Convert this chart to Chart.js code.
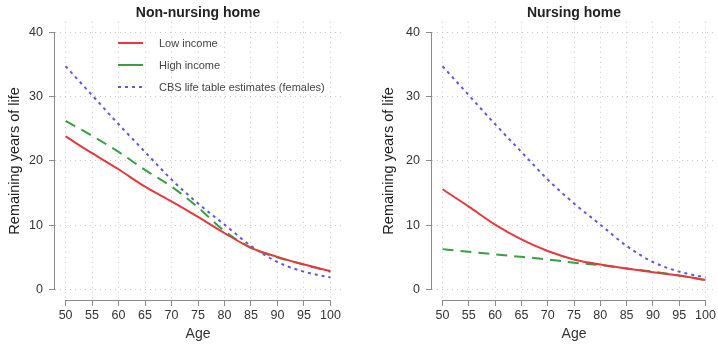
<!DOCTYPE html>
<html>
<head>
<meta charset="utf-8">
<script src="https://cdn.jsdelivr.net/npm/chart.js@4"></script>
<style>
  body { margin: 0; background: #fff; }
  #wrap { position: relative; width: 718px; height: 347px; }
  .panel { position: absolute; top: 0; width: 359px; height: 347px; }
  #legend { position: absolute; left: 118px; top: 32px; font: 11px 'Liberation Sans', Arial, sans-serif; color: #444; }
  #legend .row { display: flex; align-items: center; height: 22px; }
  #legend svg { margin-right: 16px; }
</style>
</head>
<body>
<div id="wrap">
  <div class="panel" style="left:0"><canvas id="nonNursingChart"></canvas></div>
  <div class="panel" style="left:359px"><canvas id="nursingChart"></canvas></div>
  <div id="legend"></div>
</div>
<script>
const ages = [50, 55, 60, 65, 70, 75, 80, 85, 90, 95, 100];
const yTicks = [0, 10, 20, 30, 40];

const nonNursingLow = [23.8, 21.2, 18.7, 16.0, 13.7, 11.3, 8.8, 6.5, 5.1, 3.9, 2.9];
const nonNursingHigh = [26.2, 23.9, 21.4, 18.6, 16.0, 12.8, 9.1, 6.5, 5.0, 3.9, 2.8];
const cbsFemales = [34.7, 30.2, 25.7, 21.4, 17.1, 13.4, 10.1, 6.8, 4.3, 2.8, 1.9];
const nursingLow = [15.6, 12.9, 10.1, 7.8, 6.0, 4.7, 3.9, 3.3, 2.7, 2.2, 1.5];
const nursingHigh = [6.3, 5.9, 5.5, 5.1, 4.7, 4.2, 3.8, 3.3, 2.8, 2.2, 1.5];

const seriesLabels = ['Low income', 'High income', 'CBS life table estimates (females)'];
const seriesColors = ['#e23a3e', '#3a9f42', '#5a5ae0'];
const seriesDash = [[], [11, 7], [3, 4]];

const font = "'Liberation Sans', Arial, sans-serif";

function points(values) {
  return ages.map((a, i) => ({ x: a, y: values[i] }));
}

function makeDatasets(low, high, cbs) {
  return [low, high, cbs].map((vals, i) => ({
    label: seriesLabels[i],
    data: points(vals),
    borderColor: seriesColors[i],
    borderDash: seriesDash[i],
    borderWidth: 2,
    pointRadius: 0,
    cubicInterpolationMode: 'monotone',
    fill: false
  }));
}

// R style axis lines, only from first to last tick
const axisLines = {
  id: 'axisLines',
  afterDraw(chart) {
    const { ctx, chartArea, scales } = chart;
    ctx.save();
    ctx.strokeStyle = '#8a8a8a';
    ctx.lineWidth = 1;
    ctx.beginPath();
    const yb = Math.round(chartArea.bottom) + 0.5;
    ctx.moveTo(scales.x.getPixelForValue(ages[0]), yb);
    ctx.lineTo(scales.x.getPixelForValue(ages[ages.length - 1]), yb);
    const xl = Math.round(chartArea.left) - 0.5;
    ctx.moveTo(xl, scales.y.getPixelForValue(yTicks[0]));
    ctx.lineTo(xl, scales.y.getPixelForValue(yTicks[yTicks.length - 1]));
    ctx.stroke();
    ctx.restore();
  }
};

function makeChart(id, title, datasets, yWidth, yTitlePad, rightPad) {
  const grid = {
    color: '#c8c8c8',
    tickColor: '#8a8a8a',
    tickBorderDash: [],
    tickLength: 6
  };
  return new Chart(document.getElementById(id).getContext('2d'), {
    type: 'line',
    data: { datasets: datasets },
    options: {
      responsive: true,
      maintainAspectRatio: false,
      animation: false,
      layout: { padding: { left: 0, right: rightPad, top: 0, bottom: 0 } },
      plugins: {
        legend: { display: false },
        tooltip: { enabled: false },
        title: {
          display: true,
          text: title,
          fullSize: false,
          color: '#222',
          font: { family: font, size: 14, weight: 'bold' },
          padding: { top: 5, bottom: 0 }
        }
      },
      scales: {
        x: {
          type: 'linear',
          min: 48,
          max: 102,
          afterBuildTicks: s => { s.ticks = ages.map(v => ({ value: v })); },
          afterFit: s => { s.height = 47; },
          border: { display: false, dash: [1, 4] },
          grid: grid,
          ticks: { color: '#333', padding: 2, maxRotation: 0, font: { family: font, size: 12.5 } },
          title: { display: true, text: 'Age', color: '#333', font: { family: font, size: 14 }, padding: { top: 0, bottom: 4 } }
        },
        y: {
          min: -1.6,
          max: 41.6,
          afterBuildTicks: s => { s.ticks = yTicks.map(v => ({ value: v })); },
          afterFit: s => { s.width = yWidth; },
          border: { display: false, dash: [1, 4] },
          grid: grid,
          ticks: { color: '#333', padding: 6, font: { family: font, size: 12.5 } },
          title: { display: true, text: 'Remaining years of life', color: '#222', font: { family: font, size: 14.5 }, padding: { top: yTitlePad, bottom: 0 } }
        }
      }
    },
    plugins: [axisLines]
  });
}

makeChart('nonNursingChart', 'Non-nursing home', makeDatasets(nonNursingLow, nonNursingHigh, cbsFemales), 55, 6.5, 18);
makeChart('nursingChart', 'Nursing home', makeDatasets(nursingLow, nursingHigh, cbsFemales), 73, 21.5, 0);

// legend inside the left panel
const legendDiv = document.getElementById('legend');
seriesLabels.forEach((label, i) => {
  const row = document.createElement('div');
  row.className = 'row';
  const dash = i === 2 ? '3 4' : 'none';
  row.innerHTML = '<svg width="25" height="4"><line x1="0" y1="2" x2="25" y2="2" stroke="' + seriesColors[i] +
    '" stroke-width="2" stroke-dasharray="' + dash + '"/></svg><span>' + label + '</span>';
  legendDiv.appendChild(row);
});
</script>
</body>
</html>
